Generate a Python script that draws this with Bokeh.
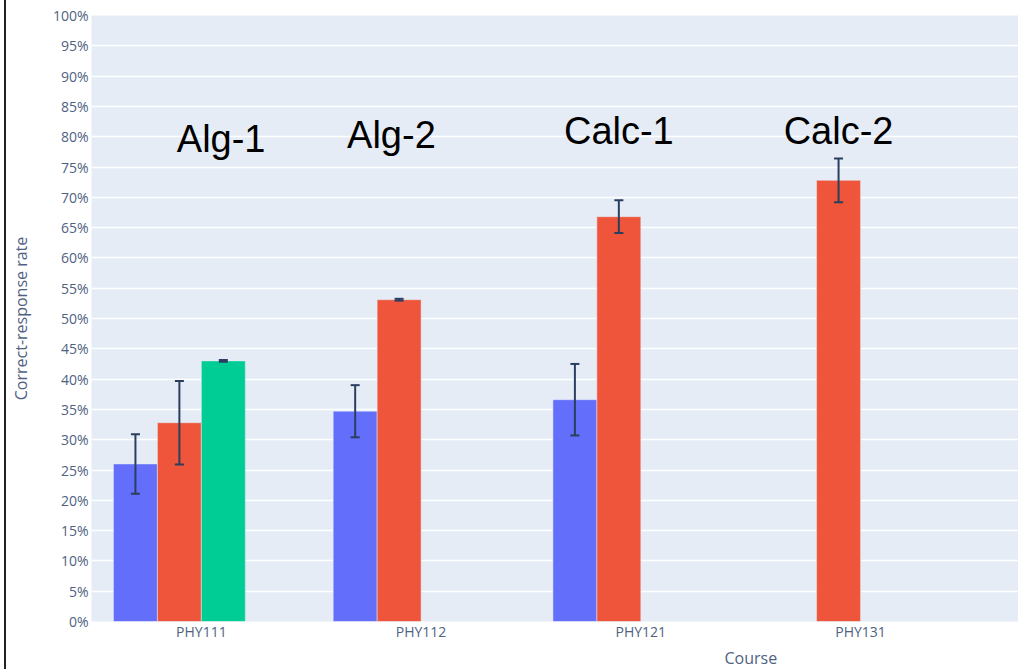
from bokeh.plotting import figure
from bokeh.models import (ColumnDataSource, Whisker, TeeHead, FixedTicker,
                          PrintfTickFormatter, Title, Range1d)
from bokeh.embed import file_html
from bokeh.resources import INLINE
from bokeh.core.properties import value

# ---------------- data ----------------
courses = ["PHY111", "PHY112", "PHY121", "PHY131"]

blue_vals = [26.0, 34.7, 36.6, None]
blue_err = [4.9, 4.3, 5.9, None]

red_vals = [32.8, 53.1, 66.8, 72.8]
red_err = [6.9, 0.15, 2.7, 3.6]

green_vals = [43.0, None, None, None]
green_err = [0.15, None, None, None]

y_ticks = list(range(0, 101, 5))

annot_text = ["Alg-1", "Alg-2", "Calc-1", "Calc-2"]
annot_x = [0.09, 0.865, 1.9, 2.9]
annot_y = [79.7, 80.2, 80.9, 80.9]

# ---------------- figure ----------------
FONT = "Open Sans"
TXT = "#2a3f5f"
LBL = "#4f6282"

p = figure(width=1014, height=669,
           x_range=Range1d(-0.5, 3.728), y_range=Range1d(0, 100),
           output_backend="svg", toolbar_location=None,
           min_border_left=85, min_border_right=0,
           min_border_top=15, min_border_bottom=48,
           background_fill_color="#E5ECF6", border_fill_color="white",
           outline_line_color=None)
p.styles = {"margin-left": "4px", "border-left": "2px solid #222"}

p.xgrid.visible = False
p.ygrid.ticker = FixedTicker(ticks=y_ticks)
p.ygrid.grid_line_color = "white"
p.ygrid.grid_line_width = 1.5

p.yaxis.ticker = FixedTicker(ticks=y_ticks)
p.yaxis.formatter = PrintfTickFormatter(format="%d%%")
p.xaxis.ticker = FixedTicker(ticks=list(range(len(courses))))
p.xaxis.major_label_overrides = {i: c for i, c in enumerate(courses)}

for ax in (p.xaxis, p.yaxis):
    ax.axis_line_color = None
    ax.major_tick_line_color = None
    ax.minor_tick_line_color = None
    ax.major_tick_out = 0
    ax.major_tick_in = 0
    ax.major_label_text_font = FONT
    ax.major_label_text_font_size = "14px"
    ax.major_label_text_color = LBL

p.yaxis.major_label_standoff = 3
p.xaxis.major_label_standoff = 0
p.yaxis.axis_label = "Correct-response rate"
p.yaxis.axis_label_text_font = FONT
p.yaxis.axis_label_text_font_size = "16px"
p.yaxis.axis_label_text_font_style = "normal"
p.yaxis.axis_label_text_color = LBL
p.yaxis.axis_label_standoff = 18

# x-axis title, placed off-centre as in the reference
p.add_layout(Title(text="Course", align="left", offset=633, standoff=2,
                   text_font=FONT, text_font_size="16px",
                   text_font_style="normal", text_color=LBL), "below")

# ---------------- bars + error bars ----------------
series = [
    (blue_vals, blue_err, "#636EFA", -0.3),
    (red_vals, red_err, "#EF553B", -0.1),
    (green_vals, green_err, "#00CC96", 0.1),
]

for vals, errs, color, off in series:
    xs, tops, ups, lows = [], [], [], []
    for i, (v, e) in enumerate(zip(vals, errs)):
        if v is None:
            continue
        xs.append(i + off)
        tops.append(v)
        ups.append(v + e)
        lows.append(v - e)
    src = ColumnDataSource(dict(x=xs, top=tops, upper=ups, lower=lows))
    p.vbar(x="x", top="top", bottom=0, width=0.2, source=src,
           fill_color=color, line_color="#E5ECF6", line_width=0.5)
    w = Whisker(source=src, base="x", upper="upper", lower="lower",
                dimension="height", line_color=TXT, line_width=2,
                upper_head=TeeHead(size=9, line_color=TXT, line_width=2),
                lower_head=TeeHead(size=9, line_color=TXT, line_width=2),
                level="overlay")
    p.add_layout(w)

# ---------------- annotations ----------------
p.text(x=annot_x, y=annot_y, text=annot_text,
       text_font=value("Liberation Sans"), text_font_size="38px",
       text_color="black", text_align="center", text_baseline="alphabetic")

open("out.html", "w").write(file_html(p, INLINE))
